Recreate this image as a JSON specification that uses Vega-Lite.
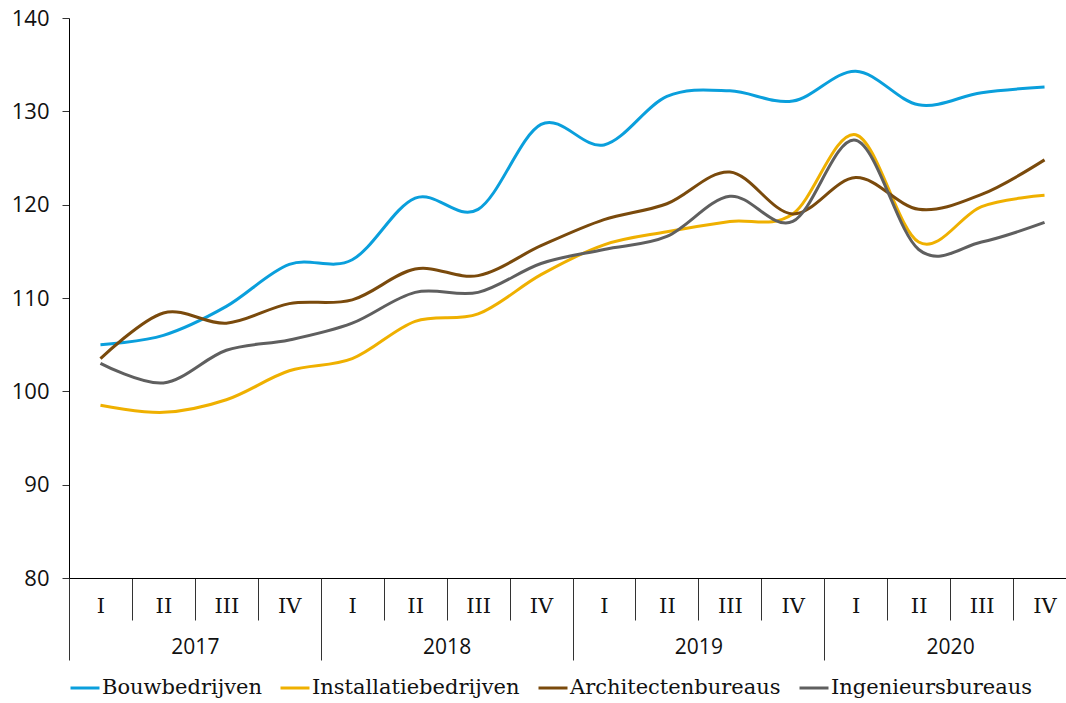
{
  "$schema": "https://vega.github.io/schema/vega-lite/v6.json",
  "autosize": "none",
  "width": 997,
  "height": 560,
  "padding": {"left": 69, "top": 18, "right": 0, "bottom": 125},
  "background": "white",
  "config": {"view": {"stroke": null}},
  "datasets": {
    "main": [
      {"period": "2017-I", "series": "Bouwbedrijven", "value": 105.0},
      {"period": "2017-II", "series": "Bouwbedrijven", "value": 106.0},
      {"period": "2017-III", "series": "Bouwbedrijven", "value": 109.1},
      {"period": "2017-IV", "series": "Bouwbedrijven", "value": 113.6},
      {"period": "2018-I", "series": "Bouwbedrijven", "value": 114.1},
      {"period": "2018-II", "series": "Bouwbedrijven", "value": 120.7},
      {"period": "2018-III", "series": "Bouwbedrijven", "value": 119.5},
      {"period": "2018-IV", "series": "Bouwbedrijven", "value": 128.6},
      {"period": "2019-I", "series": "Bouwbedrijven", "value": 126.4},
      {"period": "2019-II", "series": "Bouwbedrijven", "value": 131.6},
      {"period": "2019-III", "series": "Bouwbedrijven", "value": 132.2},
      {"period": "2019-IV", "series": "Bouwbedrijven", "value": 131.1},
      {"period": "2020-I", "series": "Bouwbedrijven", "value": 134.3},
      {"period": "2020-II", "series": "Bouwbedrijven", "value": 130.7},
      {"period": "2020-III", "series": "Bouwbedrijven", "value": 132.0},
      {"period": "2020-IV", "series": "Bouwbedrijven", "value": 132.6},
      {"period": "2017-I", "series": "Installatiebedrijven", "value": 98.5},
      {"period": "2017-II", "series": "Installatiebedrijven", "value": 97.75},
      {"period": "2017-III", "series": "Installatiebedrijven", "value": 99.1},
      {"period": "2017-IV", "series": "Installatiebedrijven", "value": 102.2},
      {"period": "2018-I", "series": "Installatiebedrijven", "value": 103.5},
      {"period": "2018-II", "series": "Installatiebedrijven", "value": 107.5},
      {"period": "2018-III", "series": "Installatiebedrijven", "value": 108.3},
      {"period": "2018-IV", "series": "Installatiebedrijven", "value": 112.5},
      {"period": "2019-I", "series": "Installatiebedrijven", "value": 115.7},
      {"period": "2019-II", "series": "Installatiebedrijven", "value": 117.1},
      {"period": "2019-III", "series": "Installatiebedrijven", "value": 118.2},
      {"period": "2019-IV", "series": "Installatiebedrijven", "value": 119.0},
      {"period": "2020-I", "series": "Installatiebedrijven", "value": 127.5},
      {"period": "2020-II", "series": "Installatiebedrijven", "value": 116.0},
      {"period": "2020-III", "series": "Installatiebedrijven", "value": 119.8},
      {"period": "2020-IV", "series": "Installatiebedrijven", "value": 121.0},
      {"period": "2017-I", "series": "Architectenbureaus", "value": 103.5},
      {"period": "2017-II", "series": "Architectenbureaus", "value": 108.4},
      {"period": "2017-III", "series": "Architectenbureaus", "value": 107.3},
      {"period": "2017-IV", "series": "Architectenbureaus", "value": 109.4},
      {"period": "2018-I", "series": "Architectenbureaus", "value": 109.8},
      {"period": "2018-II", "series": "Architectenbureaus", "value": 113.1},
      {"period": "2018-III", "series": "Architectenbureaus", "value": 112.4},
      {"period": "2018-IV", "series": "Architectenbureaus", "value": 115.6},
      {"period": "2019-I", "series": "Architectenbureaus", "value": 118.4},
      {"period": "2019-II", "series": "Architectenbureaus", "value": 120.1},
      {"period": "2019-III", "series": "Architectenbureaus", "value": 123.5},
      {"period": "2019-IV", "series": "Architectenbureaus", "value": 119.0},
      {"period": "2020-I", "series": "Architectenbureaus", "value": 122.9},
      {"period": "2020-II", "series": "Architectenbureaus", "value": 119.5},
      {"period": "2020-III", "series": "Architectenbureaus", "value": 121.1},
      {"period": "2020-IV", "series": "Architectenbureaus", "value": 124.8},
      {"period": "2017-I", "series": "Ingenieursbureaus", "value": 103.0},
      {"period": "2017-II", "series": "Ingenieursbureaus", "value": 100.9},
      {"period": "2017-III", "series": "Ingenieursbureaus", "value": 104.4},
      {"period": "2017-IV", "series": "Ingenieursbureaus", "value": 105.5},
      {"period": "2018-I", "series": "Ingenieursbureaus", "value": 107.3},
      {"period": "2018-II", "series": "Ingenieursbureaus", "value": 110.6},
      {"period": "2018-III", "series": "Ingenieursbureaus", "value": 110.6},
      {"period": "2018-IV", "series": "Ingenieursbureaus", "value": 113.7},
      {"period": "2019-I", "series": "Ingenieursbureaus", "value": 115.2},
      {"period": "2019-II", "series": "Ingenieursbureaus", "value": 116.6},
      {"period": "2019-III", "series": "Ingenieursbureaus", "value": 120.9},
      {"period": "2019-IV", "series": "Ingenieursbureaus", "value": 118.2},
      {"period": "2020-I", "series": "Ingenieursbureaus", "value": 126.9},
      {"period": "2020-II", "series": "Ingenieursbureaus", "value": 115.2},
      {"period": "2020-III", "series": "Ingenieursbureaus", "value": 116.0},
      {"period": "2020-IV", "series": "Ingenieursbureaus", "value": 118.1}
    ],
    "years": [
      {"year": "2017", "v": 100},
      {"year": "2018", "v": 100},
      {"year": "2019", "v": 100},
      {"year": "2020", "v": 100}
    ]
  },
  "layer": [
    {
      "data": {"name": "main"},
      "mark": {"type": "line", "interpolate": "cardinal", "strokeWidth": 3, "clip": false},
      "encoding": {
        "x": {
          "field": "period",
          "type": "ordinal",
          "sort": null,
          "scale": {"range": [0, 1007], "paddingInner": 0, "paddingOuter": 0},
          "axis": {
            "title": null,
            "orient": "bottom",
            "labelExpr": "split(datum.value, '-')[1]",
            "labelAngle": 0,
            "labelFont": "DejaVu Serif",
            "labelFontSize": 21,
            "labelColor": "#111111",
            "labelPadding": -14,
            "labelBaseline": "middle",
            "tickBand": "extent",
            "tickSize": 42,
            "tickColor": "#333333",
            "tickWidth": 1,
            "domainColor": "#000000",
            "domainWidth": 1,
            "grid": false
          }
        },
        "y": {
          "field": "value",
          "type": "quantitative",
          "scale": {"domain": [80, 140], "nice": false, "zero": false},
          "axis": {
            "title": null,
            "values": [80, 90, 100, 110, 120, 130, 140],
            "grid": false,
            "tickSize": 7,
            "tickColor": "#333333",
            "domainColor": "#000000",
            "labelFont": "Open Sans",
            "labelFontSize": 22,
            "labelColor": "#111111",
            "labelPadding": 13
          }
        },
        "color": {
          "field": "series",
          "type": "nominal",
          "scale": {
            "domain": ["Bouwbedrijven", "Installatiebedrijven", "Architectenbureaus", "Ingenieursbureaus"],
            "range": ["#0a9fdc", "#efb000", "#7a4a0c", "#5f5f5f"]
          },
          "legend": {
            "title": null,
            "orient": "bottom",
            "direction": "horizontal",
            "symbolType": "stroke",
            "symbolSize": 841,
            "symbolStrokeWidth": 3,
            "labelFont": "DejaVu Serif",
            "labelFontSize": 21,
            "labelColor": "#111111",
            "labelLimit": 400,
            "labelOffset": 1,
            "columnPadding": 12,
            "offset": 11,
            "padding": 0
          }
        }
      }
    },
    {
      "data": {"name": "years"},
      "mark": {"type": "tick", "opacity": 0},
      "encoding": {
        "x": {
          "field": "year",
          "type": "ordinal",
          "scale": {"range": [0, 1007], "paddingInner": 0, "paddingOuter": 0},
          "axis": {
            "title": null,
            "orient": "bottom",
            "labelAngle": 0,
            "labelFont": "Open Sans",
            "labelFontSize": 21,
            "labelColor": "#111111",
            "labelPadding": -13,
            "labelBaseline": "middle",
            "tickBand": "extent",
            "tickSize": 82,
            "tickColor": "#333333",
            "tickWidth": 1,
            "domain": false,
            "grid": false
          }
        },
        "y": {"field": "v", "type": "quantitative"}
      }
    }
  ],
  "resolve": {"scale": {"x": "independent"}, "axis": {"x": "independent"}}
}
